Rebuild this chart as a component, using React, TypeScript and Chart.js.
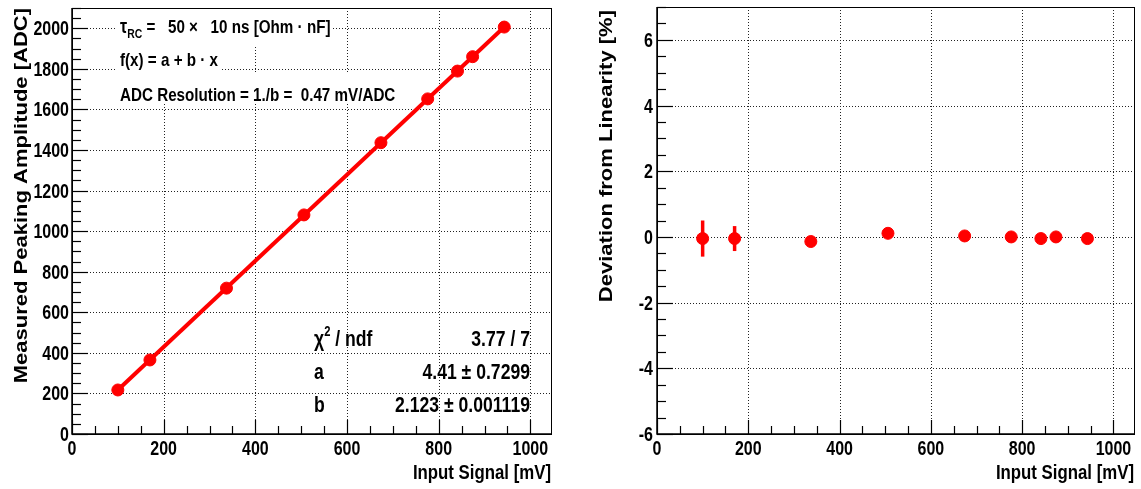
import React, { useEffect, useRef } from "react";
import { Chart, registerables } from "chart.js";

Chart.register(...registerables);

// ---------- data ----------
const inputSignal = [100, 170, 337, 506, 674, 776, 841, 874, 943];
const amplitude = [217, 365, 719, 1080, 1436, 1652, 1789, 1860, 2006];
const amplitudeErr = [3, 3, 3, 3, 3, 3, 3, 3, 3];
const deviation = [-0.05, -0.05, -0.14, 0.11, 0.03, 0.0, -0.05, 0.0, -0.05];
const deviationErr = [0.55, 0.38, 0.12, 0.08, 0.07, 0.06, 0.06, 0.06, 0.06];
const fitLineX = [100, 943];
const fitLineY = [217, 2006];

const xTicks = [0, 200, 400, 600, 800, 1000];
const leftYTicks = [0, 200, 400, 600, 800, 1000, 1200, 1400, 1600, 1800, 2000];
const rightYTicks = [-6, -4, -2, 0, 2, 4, 6];

const xTitle = "Input Signal [mV]";
const leftYTitle = "Measured Peaking Amplitude [ADC]";
const rightYTitle = "Deviation from Linearity [%]";

const statLabels = ["χ", "a", "b"];
const statValues = ["3.77 / 7", "4.41 ± 0.7299", "2.123 ± 0.001119"];

// ---------- drawing helpers ----------
const FONT = "'Liberation Sans', Arial, Helvetica, sans-serif";
const SX = 0.8;
const RED = "#ff0000";

type Seg = { t: string; size: number; dy?: number };

function segWidth(ctx: CanvasRenderingContext2D, s: Seg) {
  ctx.font = `bold ${s.size}px ${FONT}`;
  return ctx.measureText(s.t).width * SX;
}

function drawRich(
  ctx: CanvasRenderingContext2D,
  segs: Seg[],
  x: number,
  y: number,
  align: "left" | "right" | "center" = "left",
  color = "#000"
) {
  const widths = segs.map((s) => segWidth(ctx, s));
  const total = widths.reduce((a, b) => a + b, 0);
  let cx = align === "right" ? x - total : align === "center" ? x - total / 2 : x;
  segs.forEach((s, i) => {
    ctx.save();
    ctx.font = `bold ${s.size}px ${FONT}`;
    ctx.fillStyle = color;
    ctx.textAlign = "left";
    ctx.textBaseline = "alphabetic";
    ctx.translate(cx, y + (s.dy || 0));
    ctx.scale(SX, 1);
    ctx.fillText(s.t, 0, 0);
    ctx.restore();
    cx += widths[i];
  });
  return total;
}

function drawRotated(ctx: CanvasRenderingContext2D, text: string, bx: number, topY: number, size: number) {
  ctx.save();
  ctx.font = `bold ${size}px ${FONT}`;
  ctx.fillStyle = "#000";
  ctx.textAlign = "right";
  ctx.textBaseline = "alphabetic";
  ctx.translate(bx, topY);
  ctx.rotate(-Math.PI / 2);
  ctx.scale(1, SX);
  ctx.fillText(text, 0, 0);
  ctx.restore();
}

type PanelCfg = {
  yTicks: number[];
  yMin: number;
  yMax: number;
  yMinorStep: number;
  yTitle: string;
  yTitleX: number;
  yTitleTop: number;
  yLabelGap: number;
  xs: number[];
  ys: number[];
  errs: number[];
  extra?: (ctx: CanvasRenderingContext2D, chart: any) => void;
};

const TICK_SIZE = 20;

function makePlugin(cfg: PanelCfg) {
  return {
    id: "rootStyle",
    beforeDraw(chart: any) {
      const ctx = chart.ctx;
      ctx.save();
      ctx.fillStyle = "#fff";
      ctx.fillRect(0, 0, chart.width, chart.height);
      ctx.restore();
    },
    beforeDatasetsDraw(chart: any) {
      const ctx: CanvasRenderingContext2D = chart.ctx;
      const xs = chart.scales.x;
      const ys = chart.scales.y;
      const a = chart.chartArea;
      ctx.save();
      ctx.strokeStyle = "#222";
      ctx.lineWidth = 1;
      ctx.setLineDash([1, 2]);
      xTicks.forEach((v) => {
        if (v <= xs.min) return;
        const px = Math.round(xs.getPixelForValue(v)) + 0.5;
        ctx.beginPath();
        ctx.moveTo(px, a.top);
        ctx.lineTo(px, a.bottom);
        ctx.stroke();
      });
      cfg.yTicks.forEach((v) => {
        if (v <= ys.min) return;
        const py = Math.round(ys.getPixelForValue(v)) + 0.5;
        ctx.beginPath();
        ctx.moveTo(a.left, py);
        ctx.lineTo(a.right, py);
        ctx.stroke();
      });
      ctx.restore();
      if (cfg.extra) cfg.extra(ctx, chart);
      // error bars
      ctx.save();
      ctx.strokeStyle = RED;
      ctx.lineWidth = 3.5;
      cfg.xs.forEach((xv, i) => {
        const px = xs.getPixelForValue(xv);
        const y1 = ys.getPixelForValue(cfg.ys[i] - cfg.errs[i]);
        const y2 = ys.getPixelForValue(cfg.ys[i] + cfg.errs[i]);
        ctx.beginPath();
        ctx.moveTo(px, y1);
        ctx.lineTo(px, y2);
        ctx.stroke();
      });
      ctx.restore();
    },
    afterDatasetsDraw(chart: any) {
      const ctx: CanvasRenderingContext2D = chart.ctx;
      const xs = chart.scales.x;
      const ys = chart.scales.y;
      const a = chart.chartArea;
      ctx.save();
      // frame
      ctx.strokeStyle = "#000";
      ctx.lineWidth = 1;
      ctx.strokeRect(Math.round(a.left) + 0.5, Math.round(a.top) + 0.5, Math.round(a.right - a.left), Math.round(a.bottom - a.top));
      ctx.lineWidth = 1.5;
      ctx.beginPath();
      ctx.moveTo(a.left, a.top);
      ctx.lineTo(a.left, a.bottom);
      ctx.lineTo(a.right, a.bottom);
      ctx.stroke();
      // x ticks
      ctx.lineWidth = 1.2;
      for (let v = 0; v <= xs.max; v += 50) {
        const px = Math.round(xs.getPixelForValue(v)) + 0.5;
        const major = v % 200 === 0;
        const len = major ? 14 : 8;
        ctx.beginPath();
        ctx.moveTo(px, a.bottom);
        ctx.lineTo(px, a.bottom - len);
        ctx.stroke();
      }
      // y ticks
      const yStart = Math.ceil(cfg.yMin / cfg.yMinorStep) * cfg.yMinorStep;
      for (let v = yStart; v <= cfg.yMax + 1e-9; v += cfg.yMinorStep) {
        const py = Math.round(ys.getPixelForValue(v)) + 0.5;
        const major = cfg.yTicks.some((t) => Math.abs(t - v) < 1e-6);
        const len = major ? 16 : 9;
        ctx.beginPath();
        ctx.moveTo(a.left, py);
        ctx.lineTo(a.left + len, py);
        ctx.stroke();
      }
      ctx.restore();
      // tick labels
      xTicks.forEach((v) => {
        const px = xs.getPixelForValue(v);
        drawRich(ctx, [{ t: String(v), size: TICK_SIZE }], px, a.bottom + 21, "center");
      });
      cfg.yTicks.forEach((v) => {
        const py = ys.getPixelForValue(v);
        drawRich(ctx, [{ t: String(v), size: TICK_SIZE }], a.left - cfg.yLabelGap, py + 7, "right");
      });
      // titles
      drawRich(ctx, [{ t: xTitle, size: 21 }], a.right, 479, "right");
      drawRotated(ctx, cfg.yTitle, cfg.yTitleX, cfg.yTitleTop, 22);
    },
  };
}

function leftExtra(ctx: CanvasRenderingContext2D, chart: any) {
  // text lines with white background boxes (covering grid)
  const x0 = 120;
  const line1: Seg[] = [
    { t: "τ", size: 20 },
    { t: "RC", size: 13, dy: 5 },
    { t: " =   50 ×   10 ns [Ohm · nF]", size: 19 },
  ];
  const line2: Seg[] = [{ t: "f(x) = a + b · x", size: 19 }];
  const line3: Seg[] = [{ t: "ADC Resolution = 1./b =  0.47 mV/ADC", size: 19 }];
  const rows: [Seg[], number, number, number][] = [
    [line1, 33, 9, 46],
    [line2, 66, 46, 72],
    [line3, 101, 72, 104],
  ];
  rows.forEach(([segs, base, top, bottom]) => {
    const w = segs.reduce((s, g) => s + segWidth(ctx, g), 0);
    ctx.save();
    ctx.fillStyle = "#fff";
    ctx.fillRect(x0 - 4, top, w + 6, bottom - top);
    ctx.restore();
    drawRich(ctx, segs, x0, base, "left");
  });
  // fit statistics (transparent box)
  const lx = 314;
  const rx = 530;
  const bases = [346, 379, 412];
  drawRich(ctx, [{ t: "χ", size: 22 }, { t: "2", size: 14, dy: -10 }, { t: " / ndf", size: 22 }], lx, bases[0], "left");
  drawRich(ctx, [{ t: statLabels[1], size: 22 }], lx, bases[1], "left");
  drawRich(ctx, [{ t: statLabels[2], size: 22 }], lx, bases[2], "left");
  statValues.forEach((v, i) => drawRich(ctx, [{ t: v, size: 22 }], rx, bases[i], "right"));
}

function makeScales(xMax: number, yMin: number, yMax: number, yWidth: number) {
  return {
    x: {
      type: "linear" as const,
      position: "bottom" as const,
      min: 0,
      max: xMax,
      ticks: { display: false },
      grid: { display: false },
      border: { display: false },
      afterFit: (s: any) => {
        s.height = 55;
      },
    },
    y: {
      type: "linear" as const,
      position: "left" as const,
      min: yMin,
      max: yMax,
      ticks: { display: false },
      grid: { display: false },
      border: { display: false },
      afterFit: (s: any) => {
        s.width = yWidth;
      },
    },
  };
}

function LeftPanel() {
  const ref = useRef<HTMLCanvasElement>(null);
  useEffect(() => {
    if (!ref.current) return;
    const chart = new Chart(ref.current, {
      type: "scatter",
      data: {
        datasets: [
          {
            data: fitLineX.map((x, i) => ({ x, y: fitLineY[i] })),
            showLine: true,
            borderColor: RED,
            borderWidth: 4,
            pointRadius: 0,
            backgroundColor: RED,
          },
          {
            data: inputSignal.map((x, i) => ({ x, y: amplitude[i] })),
            pointRadius: 6,
            pointBackgroundColor: RED,
            pointBorderColor: RED,
            borderColor: RED,
            backgroundColor: RED,
          },
        ],
      },
      options: {
        animation: false,
        responsive: false,
        events: [],
        layout: { padding: { top: 8, right: 19, left: 0, bottom: 0 } },
        plugins: { legend: { display: false }, tooltip: { enabled: false } },
        scales: makeScales(1045, 0, 2100, 72),
      },
      plugins: [
        makePlugin({
          yTicks: leftYTicks,
          yMin: 0,
          yMax: 2100,
          yMinorStep: 50,
          yTitle: leftYTitle,
          yTitleX: 27,
          yTitleTop: 8,
          yLabelGap: 3,
          xs: inputSignal,
          ys: amplitude,
          errs: amplitudeErr,
          extra: leftExtra,
        }),
      ],
    } as any);
    return () => chart.destroy();
  }, []);
  return <canvas ref={ref} width={570} height={489} style={{ position: "absolute", left: 0, top: 0 }} />;
}

function RightPanel() {
  const ref = useRef<HTMLCanvasElement>(null);
  useEffect(() => {
    if (!ref.current) return;
    const chart = new Chart(ref.current, {
      type: "scatter",
      data: {
        datasets: [
          {
            data: inputSignal.map((x, i) => ({ x, y: deviation[i] })),
            pointRadius: 6,
            pointBackgroundColor: RED,
            pointBorderColor: RED,
            borderColor: RED,
            backgroundColor: RED,
          },
        ],
      },
      options: {
        animation: false,
        responsive: false,
        events: [],
        layout: { padding: { top: 7, right: 3, left: 0, bottom: 0 } },
        plugins: { legend: { display: false }, tooltip: { enabled: false } },
        scales: makeScales(1045, -6, 7, 87),
      },
      plugins: [
        makePlugin({
          yTicks: rightYTicks,
          yMin: -6,
          yMax: 7,
          yMinorStep: 0.5,
          yTitle: rightYTitle,
          yTitleX: 42,
          yTitleTop: 10,
          yLabelGap: 4,
          xs: inputSignal,
          ys: deviation,
          errs: deviationErr,
        }),
      ],
    } as any);
    return () => chart.destroy();
  }, []);
  return <canvas ref={ref} width={571} height={489} style={{ position: "absolute", left: 570, top: 0 }} />;
}

export default function App() {
  return (
    <div style={{ position: "fixed", left: 0, top: 0, width: 1141, height: 489, background: "#fff", overflow: "hidden" }}>
      <LeftPanel />
      <RightPanel />
    </div>
  );
}
